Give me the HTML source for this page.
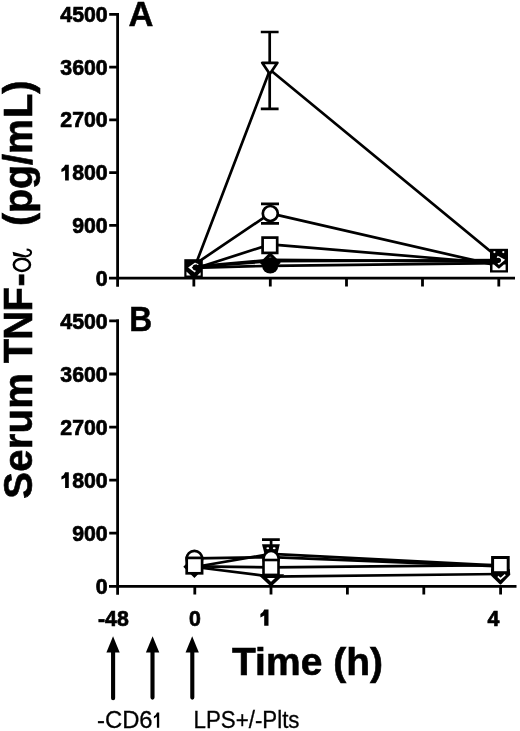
<!DOCTYPE html>
<html><head><meta charset="utf-8">
<style>
html,body{margin:0;padding:0;background:#fff;width:520px;height:731px;overflow:hidden}
svg{display:block;will-change:transform}
text{font-family:"Liberation Sans",sans-serif;fill:#000}
.b{font-weight:bold}
</style></head>
<body>
<svg width="520" height="731" viewBox="0 0 520 731">
<!-- Y axis title (rotated) -->
<g font-size="40" font-weight="bold" stroke="#000" stroke-width="0.6">
<text transform="translate(32.3,497.8) rotate(-90)" x="-1" y="0" letter-spacing="0.25">Serum</text>
<text transform="translate(32.3,362.3) rotate(-90)" x="-1" y="0" letter-spacing="-0.8">TNF</text>
<text transform="translate(32.3,286.5) rotate(-90)" x="0" y="0">-</text>
<text transform="translate(32.3,80.4) rotate(-90) scale(0.995,1)" x="0" y="0" text-anchor="end">L)</text>
<text transform="translate(32.3,119.1) rotate(-90) scale(0.983,1)" x="0" y="0" text-anchor="end">(pg/m</text>
</g>
<g fill="none" stroke="#000">
<ellipse cx="21.9" cy="264.8" rx="8.1" ry="6.1" stroke-width="2.5"/>
<path d="M25 256.6 C28.5 256.2 31.6 254.5 31 252 C30.6 250.4 29 249.7 26.6 249.6" stroke-width="2"/>
</g>
<path d="M12.6 251.8 L25 255.2 L25.6 257.6 L13.4 255.8 Z" fill="#000"/>

<!-- ============ PANEL A ============ -->
<g stroke="#000" stroke-width="2.8" fill="none" stroke-linecap="butt">
  <path d="M117.6 13 V286.8"/>
  <path d="M109 278.1 H515"/>
  <path d="M109.2 14.4 H119 M109.2 67.2 H117.6 M109.2 119.9 H117.6 M109.2 172.7 H117.6 M109.2 225.4 H117.6"/>
  <path d="M193.85 278.2 V286.5 M270.3 278.2 V286.5 M346.5 278.2 V286.5 M422.5 278.2 V286.5 M498.8 278.2 V286.5"/>
</g>
<g font-size="21.3" font-weight="bold" text-anchor="end" stroke="#000" stroke-width="0.7">
  <text x="107.7" y="21.9">4500</text>
  <text x="107.7" y="74.7">3600</text>
  <text x="107.7" y="127.4">2700</text>
  <text x="107.7" y="180.2">800</text>
  <text x="107.7" y="232.9">900</text>
  <text x="107.7" y="285.7">0</text>
</g>
<text x="128.6" y="25.5" font-size="34.5" font-weight="bold" stroke="#000" stroke-width="0.5">A</text>

<path d="M65.1 164.8 L68.8 164.8 L68.8 180.5 L65.1 180.5 L65.1 170.3 Q63.5 171.6 61.4 172 L61.4 169.1 Q64.2 168.1 65.1 164.8 Z" fill="#000"/>
<path transform="translate(0,307.4)" d="M65.1 164.8 L68.8 164.8 L68.8 180.5 L65.1 180.5 L65.1 170.3 Q63.5 171.6 61.4 172 L61.4 169.1 Q64.2 168.1 65.1 164.8 Z" fill="#000"/>
<!-- data lines A -->
<g stroke="#000" stroke-width="2.7" fill="none" stroke-linejoin="round">
  <polyline points="194.3,268.1 270,69.8 498.7,258.1"/>
  <polyline points="194.3,264.6 270.2,213.4 498.7,265.9"/>
  <polyline points="194.3,268.7 270.2,244.4 498.7,263.5"/>
  <polyline points="194.3,267 270.2,261.2 498.7,260.2"/>
  <polyline points="194.3,267.8 270.2,265.8 498.7,263.2"/>
  <polyline points="194.3,266.5 270.2,259.9 498.7,261.6"/>
</g>
<!-- error bars A -->
<g stroke="#000" stroke-width="2.7" fill="none">
  <path d="M269.7 32 V108.8 M260.8 32 H278.6 M260.8 108.8 H278.6"/>
  <path d="M270.2 203.8 V223.3 M261 203.8 H279 M261 223.3 H279"/>
</g>
<!-- markers A -->
<g stroke="#000" stroke-width="2.7" fill="#fff">
  <path d="M262.2 62.85 H277.4 L269.8 74.1 Z" stroke-linejoin="round"/>
  <circle cx="270.3" cy="213.5" r="7.5"/>
  <path d="M270.2 254.3 L278.6 262.7 L270.2 271.1 L261.8 262.7 Z" stroke-width="3.1"/>
  <rect x="262.6" y="237.6" width="14.6" height="15.3"/>
</g>
<circle cx="270.2" cy="265.4" r="8.1" fill="#000"/>
<!-- x0 cluster A -->
<rect x="184.3" y="259.2" width="18.5" height="18" fill="#000"/>
<path d="M186.5 271.4 L186.5 275.4 L190.6 275.4 Z M197.4 275.4 L200.6 275.4 L200.6 272.2 Z" fill="#fff"/>
<path d="M195.8 263.3 L189.9 267.6 L195.4 271.7" stroke="#fff" stroke-width="2.1" fill="none" stroke-linejoin="miter"/>
<path d="M194.6 263.6 Q197.2 263.4 198.2 265" stroke="#fff" stroke-width="1.3" fill="none"/>
<circle cx="195.6" cy="267.6" r="3" fill="#000"/>
<!-- x4 cluster A -->
<rect x="490" y="248.8" width="18" height="23.7" fill="#000"/>
<circle cx="494.4" cy="252.1" r="1.1" fill="#fff"/>
<circle cx="503.3" cy="252.1" r="1.1" fill="#fff"/>
<path d="M492.5 264.6 L492.5 270.2 L505.6 270.2 L505.6 264.6 L503.9 264.6 L499.6 268.3 Q498.9 268.8 498.2 268.3 L493.9 264.6 Z" fill="#fff"/>
<path d="M497.2 256.6 L503.2 260 L498.2 264.2" stroke="#fff" stroke-width="2.2" fill="none" stroke-linejoin="miter"/>
<circle cx="498.4" cy="260.3" r="2.6" fill="#000"/>

<!-- ============ PANEL B ============ -->
<g stroke="#000" stroke-width="2.8" fill="none">
  <path d="M117.6 319.5 V594.8"/>
  <path d="M109 586.3 H516.5"/>
  <path d="M109.2 320.9 H119 M109.2 374 H117.6 M109.2 427.1 H117.6 M109.2 480.1 H117.6 M109.2 533.2 H117.6"/>
  <path d="M194.8 586.3 V594.6 M271 586.3 V594.6 M347.4 586.3 V594.6 M423.8 586.3 V594.6 M500.6 586.3 V594.6"/>
</g>
<g font-size="21.3" font-weight="bold" text-anchor="end" stroke="#000" stroke-width="0.7">
  <text x="107.7" y="329.2">4500</text>
  <text x="107.7" y="382.1">3600</text>
  <text x="107.7" y="435">2700</text>
  <text x="107.7" y="487.6">800</text>
  <text x="107.7" y="540.7">900</text>
  <text x="107.7" y="593.8">0</text>
</g>
<text transform="translate(129.2,331) scale(0.92,1)" font-size="34.5" font-weight="bold" stroke="#000" stroke-width="0.5">B</text>

<!-- data lines B -->
<g stroke="#000" stroke-width="2.7" fill="none" stroke-linejoin="round">
  <polyline points="194.8,567 271,553.9 500.6,565.7"/>
  <polyline points="194.8,558.3 271,557.2 500.6,566.3"/>
  <polyline points="194.8,566.4 271,567.4 500.6,565.1"/>
  <polyline points="194.8,567 271,576.6 500.6,574"/>
</g>
<g stroke="#000" stroke-width="2.7" fill="#fff">
  <!-- x0 -->
  <path d="M194.4 557.6 L203.6 566.8 L194.4 576 L185.2 566.8 Z"/>
  <circle cx="194.4" cy="558.6" r="7.8"/>
  <rect x="186.7" y="557.9" width="15.4" height="15.4"/>
  <!-- x1 -->
  <path d="M262.3 576.1 H279.7 L271 584.3 Z" stroke-width="3.6"/>
</g>
<path d="M271.1 539.7 V552 M262 539.7 H279.8" stroke="#000" stroke-width="2.7"/>
<path d="M262 544.2 H279.8 L277.6 553.5 H264.4 Z" fill="#000"/>
<ellipse cx="267.8" cy="548.3" rx="1.4" ry="1" fill="#fff"/>
<ellipse cx="274.2" cy="548.3" rx="1.4" ry="1" fill="#fff"/>
<circle cx="271.1" cy="558.6" r="7.6" fill="#fff" stroke="#000" stroke-width="2.7"/>
<rect x="263.5" y="560" width="15" height="14.9" fill="#fff" stroke="#000" stroke-width="2.6"/>
<!-- x4 cluster B -->
<path d="M491.1 569 L509.7 569 L510.3 574.8 L501.2 584.3 Q500.5 584.9 499.8 584.3 L491.1 575.8 Z" fill="#000"/>
<rect x="492.6" y="557.5" width="15.6" height="15.2" fill="#fff" stroke="#000" stroke-width="3"/>
<path d="M497.9 576.3 L500.5 578.8 L505.3 574.7" stroke="#fff" stroke-width="1.6" fill="none"/>

<!-- x labels -->
<g font-size="21.3" font-weight="bold" stroke="#000" stroke-width="0.7">
  <text x="98" y="625.5">-48</text>
  <text x="189" y="625.5">0</text>
    <text x="487.5" y="625.5">4</text>
</g>
<text x="232" y="675.4" font-size="39.2" font-weight="bold" stroke="#000" stroke-width="0.6" textLength="151" lengthAdjust="spacingAndGlyphs">Time (h)</text>

<path d="M264.2 609.6 L268.5 609.6 L268.5 625.8 L264.2 625.8 L264.2 615.6 Q262.6 616.8 260.4 617.4 L260.4 614 Q263.3 612.8 264.2 609.6 Z" fill="#000"/>
<!-- arrows -->
<g fill="#000" stroke="none">
  <path d="M113.05 636.3 L119.7 652.6 L106.4 652.6 Z"/>
  <path d="M152.6 636.3 L159.3 652.6 L145.9 652.6 Z"/>
  <path d="M192.2 636.3 L198.85 652.6 L185.55 652.6 Z"/>
</g>
<g stroke="#000" stroke-width="4.1" stroke-linecap="round">
  <path d="M113.1 650 V698.3 M152.5 650 V697.6 M192.3 650 V697.6"/>
</g>
<text x="97" y="727.6" font-size="23" stroke="#000" stroke-width="0.3" textLength="55.6" lengthAdjust="spacingAndGlyphs">-CD6</text>
<path d="M157 712.5 L159.2 712.5 L159.2 727.7 L156.9 727.7 L156.9 716.6 Q155.6 717.8 153.9 718.4 L153.9 716.2 Q156.2 715.2 157 712.5 Z" fill="#000"/>
<text x="193.5" y="727.7" font-size="23" stroke="#000" stroke-width="0.3" textLength="106" lengthAdjust="spacingAndGlyphs">LPS+/-Plts</text>
</svg>
</body></html>
